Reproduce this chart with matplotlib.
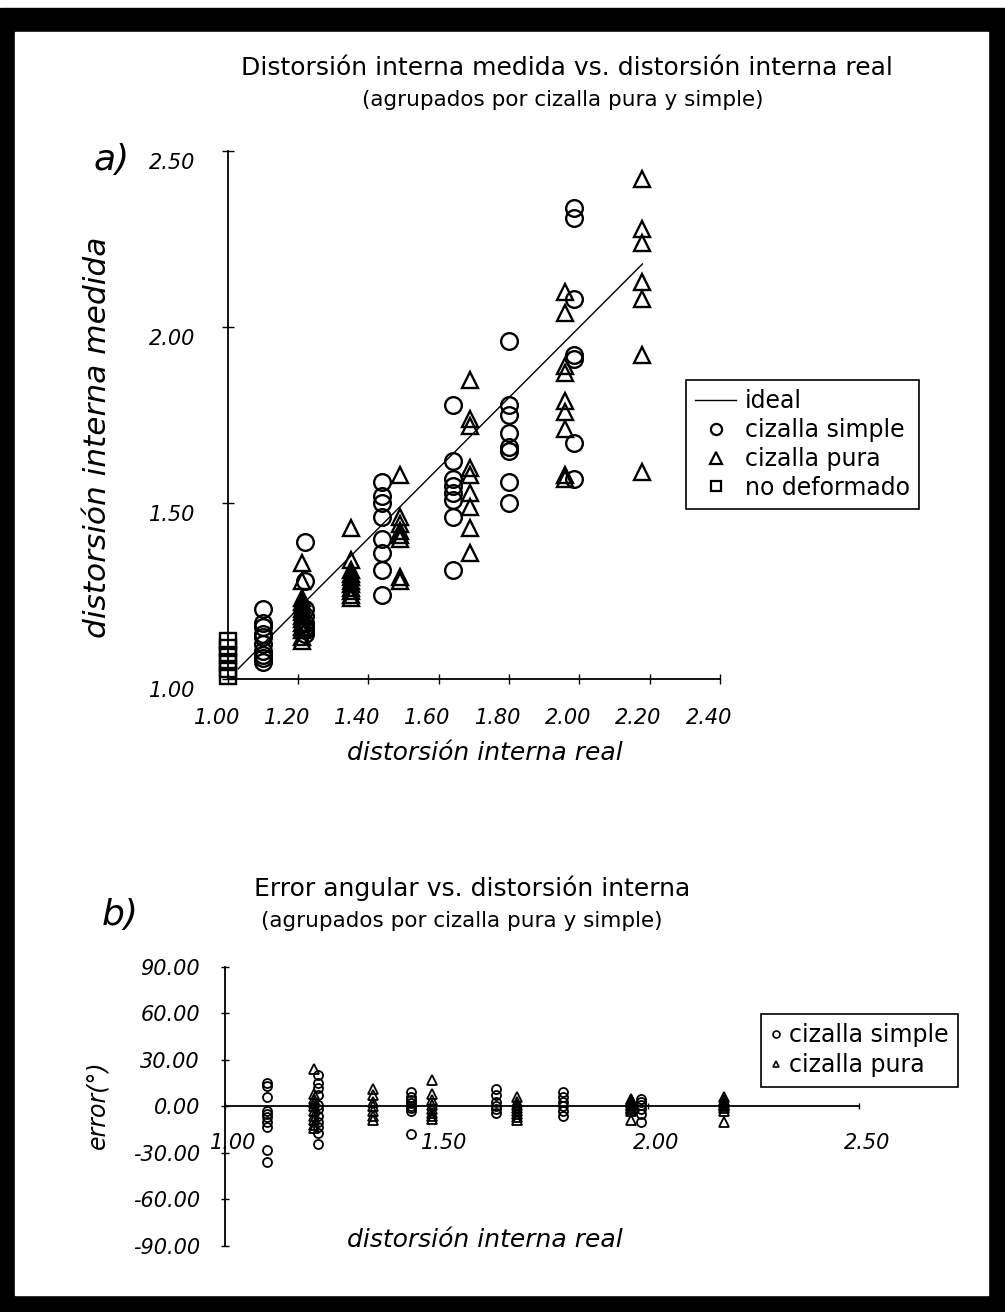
import numpy as np
import matplotlib
matplotlib.use("Agg")
import matplotlib.pyplot as plt
from matplotlib.lines import Line2D
from matplotlib.patches import Rectangle
from matplotlib.transforms import ScaledTranslation

plt.rcParams['font.family'] = ['DejaVu Sans']
plt.rcParams['axes.unicode_minus'] = False

# --- a) distorsion interna medida vs. real ---
ideal_x = [1.03, 2.18]

simple_cols = [1.10, 1.22, 1.44, 1.64, 1.80, 1.985]
simple_vals = [
    [1.20, 1.16, 1.15, 1.13, 1.12, 1.10, 1.08, 1.07, 1.06, 1.05],
    [1.39, 1.28, 1.20, 1.18, 1.16, 1.15, 1.14, 1.13],
    [1.56, 1.52, 1.50, 1.46, 1.40, 1.36, 1.31, 1.24],
    [1.78, 1.62, 1.57, 1.55, 1.53, 1.51, 1.46, 1.31],
    [1.96, 1.78, 1.75, 1.70, 1.66, 1.65, 1.56, 1.50],
    [2.34, 2.31, 2.08, 1.92, 1.91, 1.67, 1.57],
]
pura_cols = [1.21, 1.35, 1.49, 1.69, 1.96, 2.18]
pura_vals = [
    [1.33, 1.28, 1.23, 1.22, 1.21, 1.20, 1.19, 1.18, 1.17, 1.16, 1.15, 1.14, 1.12, 1.11],
    [1.43, 1.34, 1.31, 1.30, 1.29, 1.28, 1.27, 1.26, 1.25, 1.24, 1.23],
    [1.58, 1.46, 1.44, 1.42, 1.41, 1.40, 1.29, 1.28],
    [1.85, 1.74, 1.72, 1.60, 1.58, 1.53, 1.49, 1.43, 1.36],
    [2.10, 2.04, 1.89, 1.87, 1.79, 1.76, 1.71, 1.58, 1.57],
    [2.42, 2.28, 2.24, 2.13, 2.08, 1.92, 1.59],
]
nodef_x = 1.00
nodef_vals = [1.01, 1.03, 1.05, 1.07, 1.09, 1.11]

a_xticks = [1.00, 1.20, 1.40, 1.60, 1.80, 2.00, 2.20, 2.40]
a_yticks = [1.00, 1.50, 2.00, 2.50]

# --- b) error angular vs. distorsion interna ---
err_simple_vals = [
    [15, 13, 6, -3, -5, -7, -10, -13, -28, -36],
    [20, 15, 12, 7, 1, -2, -6, -10, -13, -17, -24],
    [9, 6, 4, 2, 0, -1, -3, -18],
    [11, 7, 3, 0, -2, -4],
    [9, 6, 3, 0, -3, -6],
    [5, 3, 1, -2, -5, -10],
]
err_pura_vals = [
    [24, 8, 5, 2, 0, -3, -6, -9, -12, -14],
    [11, 7, 3, 0, -3, -6, -9],
    [17, 8, 4, 1, -2, -4, -6, -8],
    [6, 3, 1, -1, -3, -5, -7, -9],
    [5, 4, 3, 2, 1, 0, -1, -2, -3, -9],
    [6, 4, 2, 1, 0, -1, -3, -10],
]
b_xticks = [1.00, 1.50, 2.00, 2.50]
b_yticks = [-90, -60, -30, 0, 30, 60, 90]


def flatten(cols, vals):
    xs, ys = [], []
    for c, v in zip(cols, vals):
        xs += [c] * len(v)
        ys += v
    return xs, ys


W, H = 1005, 1312
def fx(px):
    return px / W
def fy(py):
    return 1 - py / H

fig = plt.figure(figsize=(W / 100, H / 100), dpi=100)
fig.patches.append(Rectangle((0, 0), 1, fy(8), transform=fig.transFigure,
                             color='black', zorder=-10))
fig.patches.append(Rectangle((fx(15), fy(1295)), fx(988) - fx(15), fy(32) - fy(1295),
                             transform=fig.transFigure, color='white', zorder=-9))

# ---------------- a) ----------------
ax1 = fig.add_axes([fx(227.7), fy(679.3), fx(719.8) - fx(227.7), fy(151.3) - fy(679.3)])
ax1.patch.set_alpha(0)
ax1.set_xlim(1.0, 2.4)
ax1.set_ylim(1.0, 2.5)
for s in ['top', 'right']:
    ax1.spines[s].set_visible(False)
for s in ['left', 'bottom']:
    ax1.spines[s].set_linewidth(1.3)

ax1.plot(ideal_x, ideal_x, color='black', lw=1.0)
sx, sy = flatten(simple_cols, simple_vals)
px_, py_ = flatten(pura_cols, pura_vals)
ax1.plot(sx, sy, 'o', ms=12, mfc='none', mec='black', mew=1.7, clip_on=False)
ax1.plot(px_, py_, '^', ms=12, mfc='none', mec='black', mew=1.7, clip_on=False)
ax1.plot([nodef_x] * len(nodef_vals), nodef_vals, 's', ms=11, mfc='none',
         mec='black', mew=1.7, clip_on=False)

ax1.set_xticks(a_xticks)
ax1.set_xticklabels(['%.2f' % v for v in a_xticks])
ax1.set_yticks(a_yticks)
ax1.set_yticklabels(['%.2f' % v for v in a_yticks])
ax1.tick_params(axis='x', direction='inout', length=7, width=1, pad=17, labelsize=15)
ax1.tick_params(axis='y', direction='inout', length=9, width=1, pad=19, labelsize=15)
for lbl in ax1.get_xticklabels():
    lbl.set_fontstyle('italic')
    lbl.set_transform(lbl.get_transform() + ScaledTranslation(-0.11, 0, fig.dpi_scale_trans))
for lbl in ax1.get_yticklabels():
    lbl.set_fontstyle('italic')
    lbl.set_transform(lbl.get_transform() + ScaledTranslation(0, -0.10, fig.dpi_scale_trans))

handles = [
    Line2D([], [], color='black', lw=1.0),
    Line2D([], [], marker='o', ls='none', ms=8, mfc='none', mec='black', mew=1.6),
    Line2D([], [], marker='^', ls='none', ms=8, mfc='none', mec='black', mew=1.6),
    Line2D([], [], marker='s', ls='none', ms=7.5, mfc='none', mec='black', mew=1.6),
]
leg = ax1.legend(handles, ['ideal', 'cizalla simple', 'cizalla pura', 'no deformado'],
                 loc='upper left', bbox_to_anchor=(fx(686), fy(380)),
                 bbox_transform=fig.transFigure, frameon=True, fancybox=False,
                 edgecolor='black', framealpha=1, borderpad=0.4, labelspacing=0.2,
                 handlelength=1.7, handletextpad=0.4, borderaxespad=0, fontsize=17)
leg.get_frame().set_linewidth(1.2)

fig.text(fx(567), fy(68), 'Distorsión interna medida vs. distorsión interna real',
         ha='center', va='center', fontsize=18)
fig.text(fx(563), fy(100), '(agrupados por cizalla pura y simple)',
         ha='center', va='center', fontsize=15.5)
fig.text(fx(112), fy(160), 'a)', ha='center', va='center', fontsize=26, style='italic')
fig.text(fx(97), fy(437), 'distorsión interna medida', ha='center', va='center',
         rotation=90, fontsize=22.5, style='italic')
fig.text(fx(485), fy(753), 'distorsión interna real', ha='center', va='center',
         fontsize=18, style='italic')

# ---------------- b) ----------------
ax2 = fig.add_axes([fx(225), fy(1246), fx(859) - fx(225), fy(966.7) - fy(1246)])
ax2.patch.set_alpha(0)
ax2.set_xlim(1.0, 2.5)
ax2.set_ylim(-90, 90)
for s in ['top', 'right']:
    ax2.spines[s].set_visible(False)
ax2.spines['bottom'].set_position(('data', 0))
for s in ['left', 'bottom']:
    ax2.spines[s].set_linewidth(1.3)

ex, ey = flatten(simple_cols, err_simple_vals)
qx, qy = flatten(pura_cols, err_pura_vals)
ax2.plot(ex, ey, 'o', ms=6.5, mfc='none', mec='black', mew=1.3, clip_on=False)
ax2.plot(qx, qy, '^', ms=7, mfc='none', mec='black', mew=1.3, clip_on=False)

ax2.set_xticks(b_xticks)
ax2.set_xticklabels(['%.2f' % v for v in b_xticks])
ax2.set_yticks(b_yticks)
ax2.set_yticklabels(['%.2f' % v for v in b_yticks])
ax2.tick_params(axis='x', direction='inout', length=4, width=1, pad=17, labelsize=15)
ax2.tick_params(axis='y', direction='inout', length=6, width=1, pad=15, labelsize=15)
for lbl in ax2.get_xticklabels():
    lbl.set_fontstyle('italic')
    lbl.set_transform(lbl.get_transform() + ScaledTranslation(0.08, 0, fig.dpi_scale_trans))
for lbl in ax2.get_yticklabels():
    lbl.set_fontstyle('italic')

handles2 = [
    Line2D([], [], marker='o', ls='none', ms=5, mfc='none', mec='black', mew=1.2),
    Line2D([], [], marker='^', ls='none', ms=5, mfc='none', mec='black', mew=1.2),
]
leg2 = ax2.legend(handles2, ['cizalla simple', 'cizalla pura'],
                  loc='upper left', bbox_to_anchor=(fx(761), fy(1014)),
                  bbox_transform=fig.transFigure, frameon=True, fancybox=False,
                  edgecolor='black', framealpha=1, borderpad=0.4, labelspacing=0.25,
                  handlelength=0.5, handletextpad=0.3, borderaxespad=0, fontsize=17)
leg2.get_frame().set_linewidth(1.2)

fig.text(fx(472), fy(888), 'Error angular vs. distorsión interna',
         ha='center', va='center', fontsize=18)
fig.text(fx(462), fy(921), '(agrupados por cizalla pura y simple)',
         ha='center', va='center', fontsize=15.5)
fig.text(fx(120), fy(915), 'b)', ha='center', va='center', fontsize=26, style='italic')
fig.text(fx(97), fy(1105), 'error(°)', ha='center', va='center',
         rotation=90, fontsize=17, style='italic')
fig.text(fx(485), fy(1240), 'distorsión interna real', ha='center', va='center',
         fontsize=18, style='italic')

fig.savefig('out.png', dpi=100)
